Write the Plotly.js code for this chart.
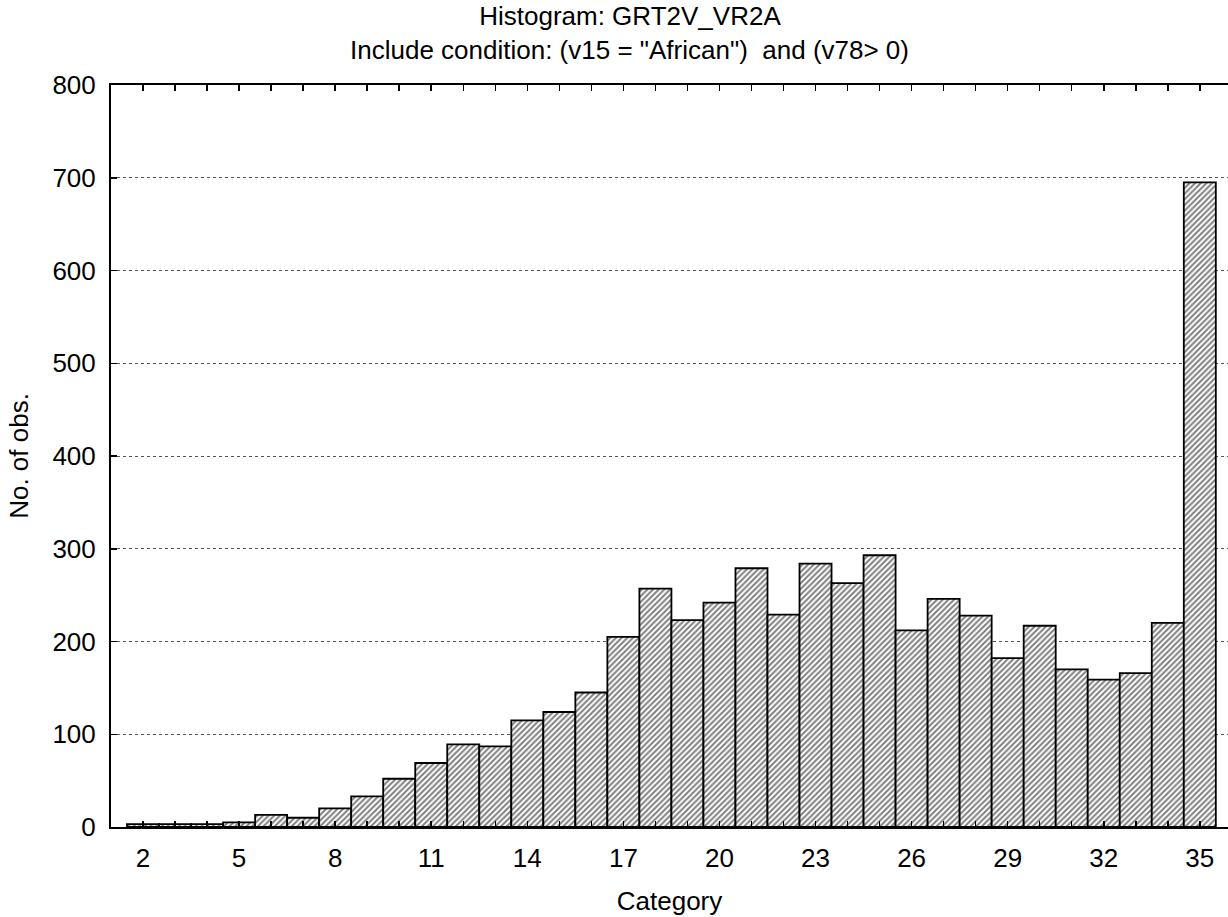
<!DOCTYPE html>
<html>
<head>
<meta charset="utf-8">
<script src="https://cdn.plot.ly/plotly-3.0.1.min.js"></script>
<style>html,body{margin:0;padding:0;background:#fff;}</style>
</head>
<body>
<div id="chart" style="width:1228px;height:917px;"></div>
<script>
const categories = [2,3,4,5,6,7,8,9,10,11,12,13,14,15,16,17,18,19,20,21,22,23,24,25,26,27,28,29,30,31,32,33,34,35];
const counts = [3,3,3,5,13,10,20,33,52,69,89,87,115,124,145,205,257,223,242,279,229,284,263,293,212,246,228,182,217,170,159,166,220,695];
const xTickVals = [2,5,8,11,14,17,20,23,26,29,32,35];
const yTickVals = [0,100,200,300,400,500,600,700,800];
const titleLine1 = 'Histogram: GRT2V_VR2A';
const titleLine2 = 'Include condition: (v15 = "African")  and (v78> 0)';
const xTitle = 'Category';
const yTitle = 'No. of obs.';

const FONT = '"Liberation Sans", Arial, Helvetica, sans-serif';
const FS = 26;

const trace = {
  type: 'bar',
  x: categories,
  y: counts,
  width: 1,
  marker: {
    color: '#ffffff',
    line: {color: '#000000', width: 1.8},
    pattern: {shape: '/', size: 4, solidity: 0.5, fgcolor: '#000000', bgcolor: '#ffffff', fillmode: 'overlay'}
  },
  hoverinfo: 'x+y'
};

const layout = {
  width: 1228,
  height: 917,
  margin: {l: 111, r: 0, t: 85, b: 90},
  paper_bgcolor: '#ffffff',
  plot_bgcolor: '#ffffff',
  font: {family: FONT, size: FS, color: '#000000'},
  showlegend: false,
  bargap: 0,
  title: {
    text: titleLine1,
    font: {family: FONT, size: FS, color: '#000'},
    xref: 'container', x: 0.513, xanchor: 'center',
    yref: 'container', y: 1 - 16 / 917, yanchor: 'middle'
  },
  annotations: [{
    text: titleLine2,
    xref: 'paper', yref: 'paper',
    x: 0.4646, y: 1.0465,
    xanchor: 'center', yanchor: 'middle',
    showarrow: false,
    font: {family: FONT, size: FS, color: '#000'}
  }],
  xaxis: {
    range: [1, 35.88],
    tickmode: 'array',
    tickvals: xTickVals,
    ticktext: xTickVals.map(String),
    ticks: 'inside',
    ticklen: 6,
    tickwidth: 1.5,
    tickcolor: '#000',
    minor: {dtick: 1, tick0: 1, ticks: 'inside', ticklen: 6, tickwidth: 1.5, tickcolor: '#000', showgrid: false},
    showline: true,
    linecolor: '#000',
    linewidth: 2,
    mirror: 'ticks',
    showgrid: false,
    zeroline: false,
    ticklabelstandoff: 7,
    tickfont: {family: FONT, size: FS, color: '#000'},
    title: {text: xTitle, font: {family: FONT, size: FS, color: '#000'}, standoff: 20}
  },
  yaxis: {
    range: [0, 800],
    tickmode: 'array',
    tickvals: yTickVals,
    ticktext: yTickVals.map(String),
    ticks: 'inside',
    ticklen: 6,
    tickwidth: 1.5,
    tickcolor: '#000',
    showline: true,
    linecolor: '#000',
    linewidth: 2,
    showgrid: true,
    gridcolor: '#555555',
    gridwidth: 1,
    griddash: 'dot',
    zeroline: false,
    ticklabelstandoff: 8,
    tickfont: {family: FONT, size: FS, color: '#000'},
    title: {text: yTitle, font: {family: FONT, size: FS, color: '#000'}, standoff: 16}
  }
};

Plotly.newPlot('chart', [trace], layout, {displayModeBar: false, staticPlot: true});
</script>
</body>
</html>
